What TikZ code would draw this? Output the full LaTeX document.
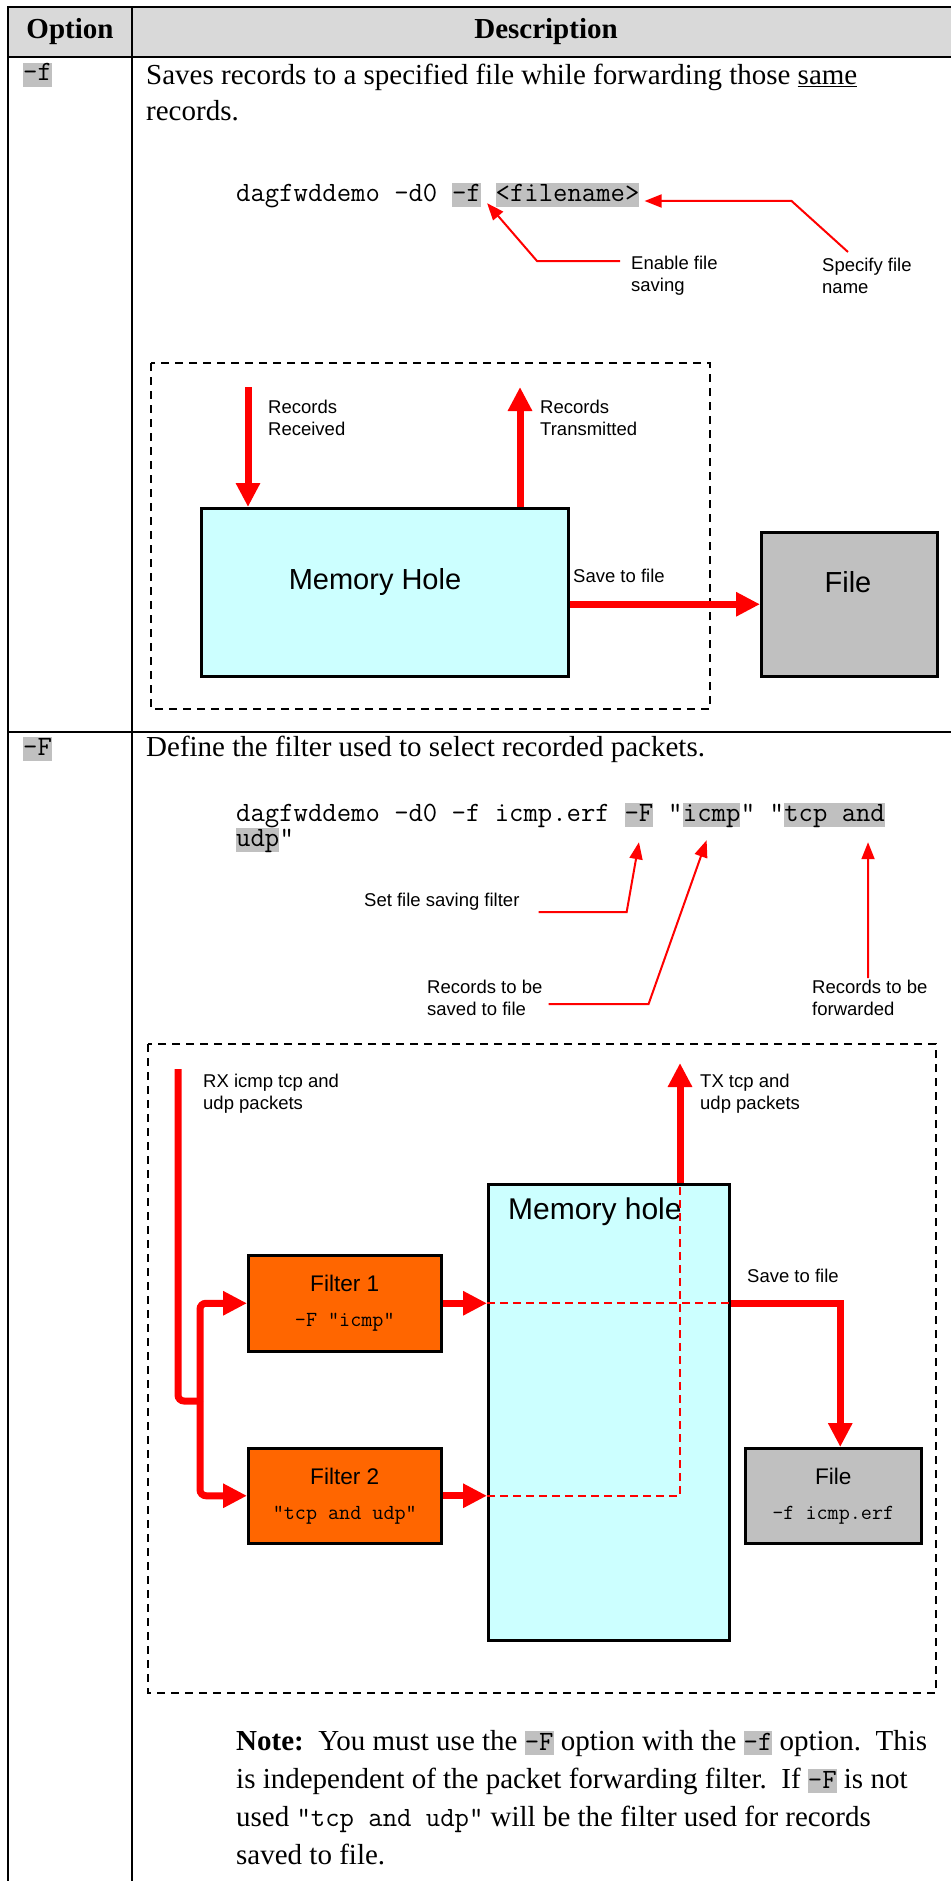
\documentclass[tikz,border=0pt]{standalone}
\usepackage{fontspec}
\setmainfont{Liberation Serif}
\setsansfont{Liberation Sans}
\usepackage{tikz}
\usetikzlibrary{positioning}
\usetikzlibrary{arrows.meta}
\definecolor{memcyan}{HTML}{CCFFFF}
\definecolor{hlgray}{HTML}{C0C0C0}
\definecolor{hdrgray}{HTML}{D9D9D9}
\definecolor{fltorange}{HTML}{FF6600}
\newcommand{\hlopt}[1]{{\setlength{\fboxsep}{0pt}\colorbox{hlgray}{\ttfamily\fontsize{27.9}{27}\selectfont\rule[-5pt]{0pt}{24pt}#1}}}
\newcommand{\smallcodefont}{\ttfamily\fontsize{21.5}{22}\selectfont}
\tikzset{
  body/.style={font=\fontsize{29}{36}\selectfont, inner sep=0pt, align=left},
  code/.style={font=\ttfamily\fontsize{27.9}{24}\selectfont, inner sep=0pt, text height=18pt, text depth=6pt},
  hlcode/.style={code, fill=hlgray},
  lbl/.style={font=\sffamily\fontsize{18.5}{22}\selectfont, inner sep=0pt, align=left},
  bigsans/.style={font=\sffamily\fontsize{29}{34}\selectfont, inner sep=0pt},
  pointer/.style={red, line width=2pt, -{Triangle[length=17pt,width=13pt]}},
  flow/.style={red, line width=7pt, -{Triangle[length=24pt,width=23pt]}},
  flowline/.style={red, line width=7pt},
  block/.style={draw, line width=2.5pt, inner sep=0pt, anchor=north west},
  dashframe/.style={draw, line width=2pt, dash pattern=on 8pt off 6pt},
  route/.style={red, line width=2pt, dash pattern=on 8pt off 5pt},
}

\begin{document}
\begin{tikzpicture}[x=1pt,y=-1pt]
\useasboundingbox (0,0) rectangle (950,1881);
% table
\fill[hdrgray] (8,7) rectangle (960,57);
\draw[line width=2.5pt] (960,7) -- (8,7) -- (8,1890);
\draw[line width=2.5pt] (132,7) -- (132,1890);
\foreach \y in {57,732} {
\draw[line width=2.5pt] (8,\y) -- (960,\y);
}
\node[font=\bfseries\fontsize{29}{36}\selectfont] (hopt) at (70,32) {Option};
\node[font=\bfseries\fontsize{29}{36}\selectfont] (hdesc) at (546,32) {Description};
\node[hlcode, anchor=base west] (optf) at (23,81) {-f};
\node[hlcode, anchor=base west] (optF) at (23,755) {-F};

%% -f row
\node[body, anchor=north west] (desc1) at (146,64) {Saves records to a specified file while forwarding those \underline{same}\\records.};
\node[code, anchor=base west] (r1cmd) at (236,201) {dagfwddemo -d0};
\node[hlcode, base right=14.4pt of r1cmd] (r1f) {-f};
\node[hlcode, base right=14.4pt of r1f] (r1file) {<filename>};
\node[lbl, anchor=west] (enable) at (631,276) {Enable file\\saving};
\node[lbl, anchor=west] (specify) at (822,276) {Specify file\\name};
\draw[pointer] ([shift={(-11pt,15pt)}]enable.west) -- ++(-83,0) -- ([shift={(6pt,4pt)}]r1f.south east);
\draw[pointer] ([shift={(26pt,24pt)}]specify.west) -- ([shift={(152pt,-6pt)}]r1file.east) -- ([shift={(5pt,-6pt)}]r1file.east);

\draw[dashframe] (151,363) rectangle (710,709);
\node[block, fill=memcyan, minimum width=367pt, minimum height=168pt] (mem1) at (200,507) {};
\node[block, fill=hlgray, minimum width=176pt, minimum height=144pt] (file1) at (760,531) {};
\node[bigsans] (mem1txt) at (375,582) {Memory Hole};
\node[bigsans] (file1txt) at (848,582) {File};
\coordinate (rxin1) at (248,387);
\coordinate (txout1) at (520,387);
\draw[flow] (rxin1) -- (rxin1 |- mem1.north);
\draw[flow] (txout1 |- mem1.north) -- (txout1);
\draw[flow] (mem1.east |- file1.west) -- (file1.west);
\node[lbl, anchor=west] (recv1) at (268,418) {Records\\Received};
\node[lbl, anchor=west] (sent1) at (540,418) {Records\\Transmitted};
\node[lbl, anchor=west] (save1) at (573,576) {Save to file};

%% -F row
\node[body, anchor=north west] (desc2) at (146,736) {Define the filter used to select recorded packets.};
\node[code, anchor=base west] (r2cmd) at (236,821) {dagfwddemo -d0 -f icmp.erf};
\node[hlcode, base right=14.4pt of r2cmd] (r2F) {-F};
\node[code, base right=14.4pt of r2F] (r2q1) {“};
\node[hlcode, base right=0pt of r2q1] (r2icmp) {icmp};
\node[code, base right=0pt of r2icmp] (r2q2) {” “};
\node[hlcode, base right=0pt of r2q2] (r2tcp) {tcp and};
\node[hlcode, anchor=base west] (r2udp) at (236,846) {udp};
\node[code, base right=0pt of r2udp] (r2q3) {”};
\node[lbl, anchor=west] (setf) at (364,902) {Set file saving filter};
\node[lbl, anchor=west] (tosave) at (427,998) {Records to be\\saved to file};
\node[lbl, anchor=west] (tofwd) at (812,998) {Records to be\\forwarded};
\draw[pointer] ([shift={(19pt,-10pt)}]setf.east) -- ++(88,0) -- ([yshift=-15pt]r2F.south);
\draw[pointer] ([shift={(6pt,-6pt)}]tosave.east) -- ++(100,0) -- ([shift={(-5pt,-13pt)}]r2icmp.south);
\draw[pointer] ([shift={(56pt,20pt)}]tofwd.west) -- ([shift={(-17pt,-15pt)}]r2tcp.south east);

\draw[dashframe] (148,1044) rectangle (936,1693);
\node[block, fill=fltorange, minimum width=193pt, minimum height=96pt, align=center, font=\sffamily\fontsize{22.6}{27}\selectfont] (flt1) at (247,1254) {Filter 1\\[8pt]{\smallcodefont -F “icmp”}};
\node[block, fill=fltorange, minimum width=193pt, minimum height=95pt, align=center, font=\sffamily\fontsize{22.6}{27}\selectfont] (flt2) at (247,1447) {Filter 2\\[8pt]{\smallcodefont “tcp and udp”}};
\node[block, fill=memcyan, minimum width=241pt, minimum height=456pt] (mem2) at (487,1183) {};
\node[block, fill=hlgray, minimum width=176pt, minimum height=95pt, align=center, font=\sffamily\fontsize{22.6}{27}\selectfont] (file2) at (744,1447) {File\\[8pt]{\smallcodefont -f icmp.erf}};
\node[bigsans, font=\sffamily\fontsize{30}{36}\selectfont, anchor=west] (mem2txt) at (508,1212) {Memory hole};
\coordinate (rxtop) at (178,1069);
\coordinate (split) at (200,1401);
\coordinate (txtop) at (680,1063);
\draw[flowline, rounded corners=6pt] (rxtop) |- (split);
\draw[flow, rounded corners=6pt] (split) |- (flt1.west);
\draw[flow, rounded corners=6pt] (split) |- (flt2.west);
\draw[flow] (flt1.east) -- (flt1.east -| mem2.west);
\draw[flow] (flt2.east) -- (flt2.east -| mem2.west);
\draw[flow] (txtop |- mem2.north) -- (txtop);
\draw[flow] (flt1.east -| mem2.east) -| ([xshift=7pt]file2.north);
\draw[route] (flt1.east -| mem2.west) -- (flt1.east -| mem2.east);
\draw[route] (flt2.east -| mem2.west) -| (txtop |- mem2.north);
\node[lbl, anchor=west] (rxlbl) at (203,1094) {RX icmp tcp and\\udp packets};
\node[lbl, anchor=west] (txlbl) at (700,1094) {TX tcp and\\udp packets};
\node[lbl, anchor=west] (save2) at (747,1276) {Save to file};

\node[body, font=\fontsize{29}{38}\selectfont, anchor=north west] (note) at (236,1730) {\textbf{Note:}\ \ You must use the \hlopt{-F} option with the \hlopt{-f} option.\ \ This\\is independent of the packet forwarding filter.\ \ If \hlopt{-F} is not\\used {\ttfamily\fontsize{27.9}{27}\selectfont “tcp and udp”} will be the filter used for records\\saved to file.};
\end{tikzpicture}
\end{document}
